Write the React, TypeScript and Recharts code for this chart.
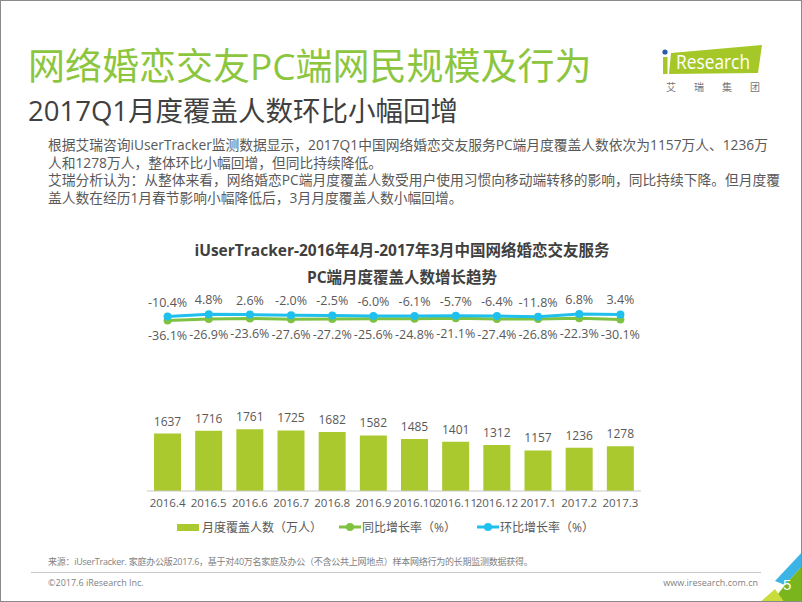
import React from 'react';
import { ComposedChart, Bar, Line, XAxis, YAxis, LabelList, Legend } from 'recharts';

const months = ['2016.4', '2016.5', '2016.6', '2016.7', '2016.8', '2016.9', '2016.10', '2016.11', '2016.12', '2017.1', '2017.2', '2017.3'];
const coverage = [1637, 1716, 1761, 1725, 1682, 1582, 1485, 1401, 1312, 1157, 1236, 1278];
const yoy = [-36.1, -26.9, -23.6, -27.6, -27.2, -25.6, -24.8, -21.1, -27.4, -26.8, -22.3, -30.1];
const mom = [-10.4, 4.8, 2.6, -2.0, -2.5, -6.0, -6.1, -5.7, -6.4, -11.8, 6.8, 3.4];
const seriesNames = ['月度覆盖人数（万人）', '同比增长率（%）', '环比增长率（%）'];

const title = '网络婚恋交友PC端网民规模及行为';
const subtitle = '2017Q1月度覆盖人数环比小幅回增';
const paragraph = [
  '根据艾瑞咨询iUserTracker监测数据显示，2017Q1中国网络婚恋交友服务PC端月度覆盖人数依次为1157万人、1236万',
  '人和1278万人，整体环比小幅回增，但同比持续降低。',
  '艾瑞分析认为：从整体来看，网络婚恋PC端月度覆盖人数受用户使用习惯向移动端转移的影响，同比持续下降。但月度覆',
  '盖人数在经历1月春节影响小幅降低后，3月月度覆盖人数小幅回增。',
];
const chartTitle = ['iUserTracker-2016年4月-2017年3月中国网络婚恋交友服务', 'PC端月度覆盖人数增长趋势'];
const source = '来源：iUserTracker. 家庭办公版2017.6，基于对40万名家庭及办公（不含公共上网地点）样本网络行为的长期监测数据获得。';
const copyright = '©2017.6 iResearch Inc.';
const website = 'www.iresearch.com.cn';
const pageNo = '5';

const data = months.map((m, i) => ({ month: m, coverage: coverage[i], yoy: yoy[i], mom: mom[i] }));

const FONT = '"Open Sans", "Noto Sans CJK SC", sans-serif';
const BAR = '#a9c92f';
const GREEN = '#7fc241';
const BLUE = '#1fc0ee';
const TEXT = '#595959';

const pct = (v: any) => `${Number(v).toFixed(1)}%`;

const renderLegend = () => (
  <div style={{ position: 'relative', width: 802, height: 20, fontSize: 12, color: TEXT, fontFamily: FONT }}>
    <div style={{ position: 'absolute', left: 176, top: 0, display: 'flex', alignItems: 'center', height: 20 }}>
      <div style={{ width: 22, height: 7, background: BAR, marginRight: 3 }} />
      <span>{seriesNames[0]}</span>
    </div>
    <div style={{ position: 'absolute', left: 338, top: 0, display: 'flex', alignItems: 'center', height: 20 }}>
      <svg width={22} height={10} style={{ marginRight: 1 }}>
        <line x1={0} y1={5} x2={22} y2={5} stroke={GREEN} strokeWidth={3} />
        <circle cx={11} cy={5} r={4} fill={GREEN} />
      </svg>
      <span>{seriesNames[1]}</span>
    </div>
    <div style={{ position: 'absolute', left: 476, top: 0, display: 'flex', alignItems: 'center', height: 20 }}>
      <svg width={22} height={10} style={{ marginRight: 1 }}>
        <line x1={0} y1={5} x2={22} y2={5} stroke={BLUE} strokeWidth={3} />
        <circle cx={11} cy={5} r={4} fill={BLUE} />
      </svg>
      <span>{seriesNames[2]}</span>
    </div>
  </div>
);

export default function App() {
  return (
    <div
      style={{
        position: 'absolute', left: 0, top: 0, width: 802, height: 602, background: '#fff',
        overflow: 'hidden', boxSizing: 'border-box', border: '1px solid #8a8a8a', fontFamily: FONT,
      }}
    >
      <div style={{ position: 'absolute', left: 27, top: 41, fontSize: 37, lineHeight: '48px', color: '#8cc63e', whiteSpace: 'nowrap' }}>
        {title}
      </div>
      <div style={{ position: 'absolute', left: 27, top: 92, fontSize: 27.5, lineHeight: '36px', color: '#404040', whiteSpace: 'nowrap' }}>
        {subtitle}
      </div>

      {/* logo */}
      <svg style={{ position: 'absolute', left: 655, top: 40 }} width={130} height={56}>
        <polygon points="15,12 106,4 102,32 13,33" fill="#a5c828" />
        <circle cx={9} cy={11} r={2.6} fill="#2a5aa8" />
        <rect x={7} y={16} width={4.5} height={17} fill="#a5c828" />
        <text x={20} y={28} fontSize={20} fill="#fff" textLength={74} lengthAdjust="spacingAndGlyphs"
          fontFamily='"Liberation Sans Narrow", "Open Sans", sans-serif'>Research</text>
        <text x={10} y={50} fontSize={10} fill="#777" fontFamily='"Noto Sans CJK SC", sans-serif' letterSpacing={18}>艾瑞集团</text>
      </svg>

      <div style={{ position: 'absolute', left: 47, top: 135, fontSize: 13.75, lineHeight: '17.5px', color: TEXT, whiteSpace: 'nowrap' }}>
        {paragraph.map((l, i) => (
          <div key={i}>{l}</div>
        ))}
      </div>

      <div style={{ position: 'absolute', left: 0, top: 236, width: 802, textAlign: 'center', fontSize: 15.5, fontWeight: 700, lineHeight: '27px', color: '#404040' }}>
        {chartTitle.map((l, i) => (
          <div key={i}>{l}</div>
        ))}
      </div>

      <div style={{ position: 'absolute', left: 0, top: 0 }}>
        <ComposedChart
          width={802}
          height={602}
          data={data}
          margin={{ top: 290, right: 162, bottom: 82, left: 146 }}
          style={{ fontFamily: FONT }}
        >
          <XAxis
            dataKey="month"
            interval={0}
            tickLine={false}
            axisLine={{ stroke: '#c8c8c8' }}
            tick={{ fontSize: 11.5, fill: TEXT }}
            tickMargin={2}
          />
          <YAxis yAxisId="left" hide domain={[0, 5700]} />
          <YAxis yAxisId="right" hide domain={[-1173, 160]} allowDataOverflow />
          <Legend layout="horizontal" verticalAlign="middle" align="center" content={renderLegend}
            wrapperStyle={{ left: 0, top: 516, width: 802 }} />
          <Bar yAxisId="left" dataKey="coverage" name={seriesNames[0]} fill={BAR} barSize={27} isAnimationActive={false}>
            <LabelList dataKey="coverage" position="top" offset={8} fill={TEXT} fontSize={12} />
          </Bar>
          <Line yAxisId="right" dataKey="yoy" name={seriesNames[1]} stroke={GREEN} strokeWidth={3}
            dot={{ r: 4, fill: GREEN, stroke: GREEN, strokeWidth: 0 }} isAnimationActive={false}>
            <LabelList dataKey="yoy" position="bottom" offset={11} fill={TEXT} fontSize={12.5} formatter={pct} />
          </Line>
          <Line yAxisId="right" dataKey="mom" name={seriesNames[2]} stroke={BLUE} strokeWidth={3}
            dot={{ r: 4, fill: BLUE, stroke: BLUE, strokeWidth: 0 }} isAnimationActive={false}>
            <LabelList dataKey="mom" position="top" offset={10} fill={TEXT} fontSize={12.5} formatter={pct} />
          </Line>
        </ComposedChart>
      </div>

      <div style={{ position: 'absolute', left: 47, top: 554, fontSize: 9, letterSpacing: -0.25, lineHeight: '14px', color: '#7f7f7f', whiteSpace: 'nowrap' }}>
        {source}
      </div>
      <div style={{ position: 'absolute', left: 30, top: 571, width: 730, height: 1, background: '#c8c8c8' }} />
      <div style={{ position: 'absolute', left: 47, top: 575, fontSize: 9, lineHeight: '14px', color: '#7f7f7f', whiteSpace: 'nowrap' }}>
        {copyright}
      </div>
      <div style={{ position: 'absolute', right: 43, top: 575, fontSize: 9, lineHeight: '14px', color: '#7f7f7f', whiteSpace: 'nowrap' }}>
        {website}
      </div>

      {/* corner decoration */}
      <svg style={{ position: 'absolute', left: 740, top: 540 }} width={62} height={62}>
        <polygon points="34,40 62,10 62,24 44,44" fill="#3cb4e6" />
        <polygon points="44,44 62,24 62,62 30,62" fill="#7ab51d" />
        <polygon points="18,62 34,48 44,62" fill="#c9dc3a" />
        <text x={42} y={49} fontSize={15} fill="#fff" fontFamily='"Liberation Sans Narrow", sans-serif'>{pageNo}</text>
      </svg>
    </div>
  );
}
